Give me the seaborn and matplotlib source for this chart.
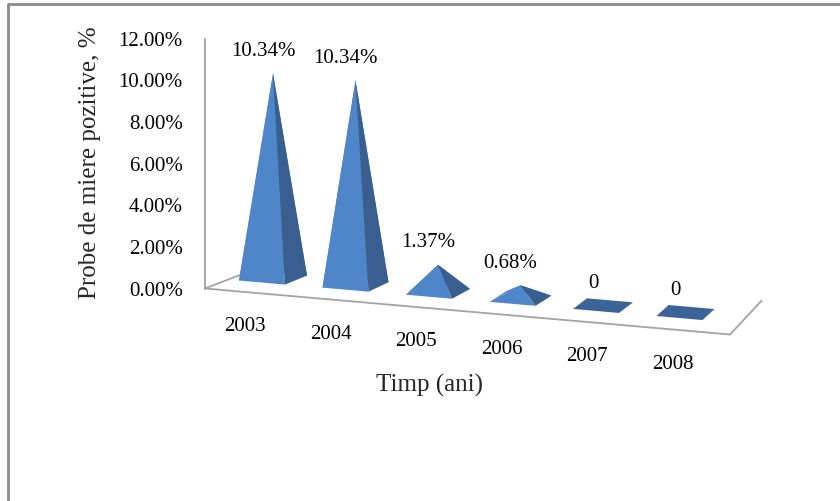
import numpy as np
import matplotlib
matplotlib.use("Agg")
import matplotlib.pyplot as plt
import seaborn as sns
from matplotlib.lines import Line2D

# ---- data ----
years = ["2003", "2004", "2005", "2006", "2007", "2008"]
values = [10.34, 10.34, 1.37, 0.68, 0.0, 0.0]
value_labels = ["10.34%", "10.34%", "1.37%", "0.68%", "0", "0"]
y_ticks = [0, 2, 4, 6, 8, 10, 12]
y_tick_labels = ["0.00%", "2.00%", "4.00%", "6.00%", "8.00%", "10.00%", "12.00%"]
x_title = "Timp (ani)"
y_title = "Probe de miere pozitive, %"

sns.set_theme(style="white")
plt.rcParams["font.family"] = ["Liberation Serif", "DejaVu Serif"]

W, H = 840, 501
fig = plt.figure(figsize=(W / 100, H / 100), dpi=100)
fig.patch.set_facecolor("white")

# projection parameters (pixel scale of the axes)
SX = 85.5    # px per category
SY = 20.83   # px per percent
X0_PX, Y0_PX = 240.0, 288.5


def x_at(px):
    return (px - X0_PX) / SX


def y_at(py):
    return (Y0_PX - py) / SY


ax_l, ax_r, ax_t, ax_b = 205, 775, 30, 350
ax = fig.add_axes([ax_l / W, 1 - ax_b / H, (ax_r - ax_l) / W, (ax_b - ax_t) / H])
ax.set_xlim(x_at(ax_l), x_at(ax_r))
ax.set_ylim(y_at(ax_b), y_at(ax_t))
ax.patch.set_alpha(0)

xL = x_at(ax_l)
slope = -(46 / 525) * SX / SY          # floor front edge tilt (data units)
D0 = np.array([22 / SX, 9 / SY])        # depth vector at first category
D5 = np.array([12 / SX, 11 / SY])       # depth vector at last category
k_height = 0.95                          # perspective shrink of heights
w = 46 / SX                              # base width


def depth(x):
    t = x / 5.0
    return D0 + (D5 - D0) * t


def front(x):
    return np.array([x, slope * (x - xL)])


# ---- axes styling ----
for sp in ["top", "right", "bottom"]:
    ax.spines[sp].set_visible(False)
ax.spines["left"].set_bounds(0, 12)
ax.spines["left"].set_color("#9a9a9a")
ax.spines["left"].set_linewidth(1.2)
ax.set_xticks([])
ax.set_yticks(y_ticks)
ax.set_yticklabels(y_tick_labels)
ax.tick_params(axis="y", length=0, pad=16, labelsize=15, labelcolor="black")

# ---- floor lines ----
grey = "#a3a3a3"
xR = x_at(730)
pL, pR = front(xL), front(xR)
ax.plot([pL[0], pR[0]], [pL[1], pR[1]], color=grey, lw=1.3, zorder=1, clip_on=False)
for p, x in [(pL, xL), (pR, xR)]:
    q = p + 3 * depth(x)
    ax.plot([p[0], q[0]], [p[1], q[1]], color=grey, lw=1.3, zorder=1, clip_on=False)

# ---- pyramids ----
light = "#4F86C9"
mid = "#4A7DBE"
dark = "#385F8F"
flat = "#3C6397"
for i, (v, lab, yr) in enumerate(zip(values, value_labels, years)):
    d = depth(i)
    FL = front(i - w / 2) + d
    FR = front(i + w / 2) + d
    BR = FR + d
    BL = FL + d
    C = (FL + BR) / 2
    apex = C + np.array([0, k_height * v])
    if v > 0:
        ax.fill(*zip(BL, BR, apex), color=mid, lw=0, zorder=2)
        ax.fill(*zip(BL, FL, apex), color=light, lw=0, zorder=2)
        ax.fill(*zip(FL, FR, apex), color=light, lw=0, zorder=3)
        ax.fill(*zip(FR, BR, apex), color=dark, lw=0, zorder=3)
    else:
        ax.fill(*zip(FL, FR, BR, BL), color=flat, lw=0, zorder=3)
    ax.annotate(lab, xy=apex, xytext=(-10, 22), textcoords="offset pixels",
                ha="center", va="center", fontsize=15, color="black")
    P = front(i)
    ax.annotate(yr, xy=P, xytext=(5, -35), textcoords="offset pixels",
                ha="center", va="center", fontsize=15, color="black",
                annotation_clip=False)

# ---- titles ----
fig.text(430 / W, 1 - 385 / H, x_title, ha="center", va="center", fontsize=18)
fig.text(90 / W, 1 - 163 / H, y_title, ha="center", va="center", fontsize=18,
         rotation=90)

# ---- outer frame ----
fig.add_artist(Line2D([8 / W, 8 / W, 1.0], [0.0, 1 - 4 / H, 1 - 4 / H],
                      transform=fig.transFigure, color="#8a8a8a", lw=2))

fig.savefig("out.png", dpi=100)
